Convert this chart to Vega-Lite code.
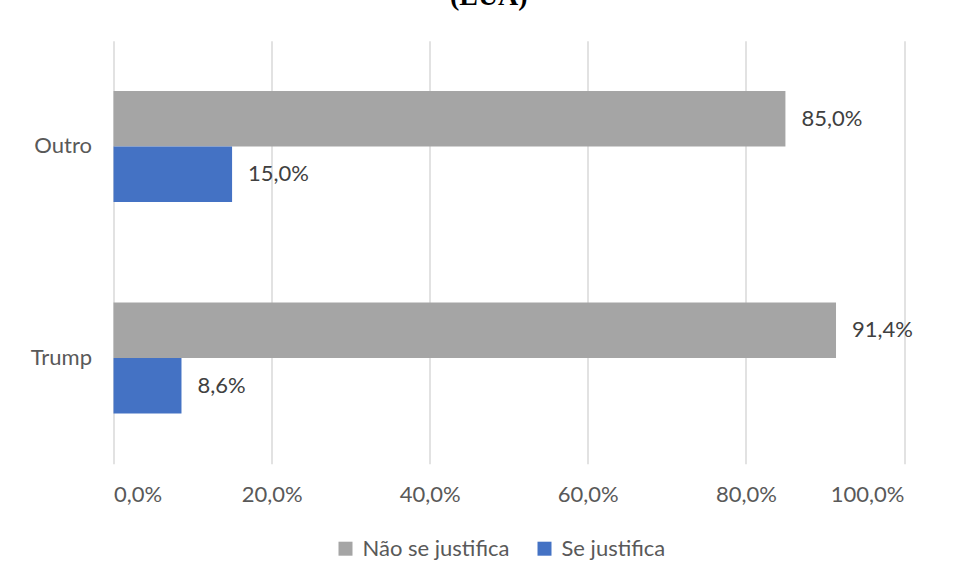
{
  "$schema": "https://vega.github.io/schema/vega-lite/v6.json",
  "autosize": {"type": "none"},
  "width": 790.5,
  "height": 423,
  "padding": {"left": 113.5, "top": 40.7, "right": 50, "bottom": 117.3},
  "background": "white",
  "title": {
    "text": "(EUA)",
    "font": "Liberation Serif",
    "fontWeight": "bold",
    "fontSize": 28,
    "color": "#000000",
    "baseline": "alphabetic",
    "anchor": "middle",
    "offset": 8,
    "dx": -20
  },
  "config": {
    "locale": {"number": {"decimal": ",", "thousands": ".", "grouping": [3], "currency": ["R$", ""]}},
    "view": {"stroke": null},
    "font": "Lato",
    "axis": {"labelFont": "Lato", "labelColor": "#595959", "labelFontSize": 22}
  },
  "data": {
    "values": [
      {"candidato": "Outro", "resposta": "Não se justifica", "valor": 0.85},
      {"candidato": "Outro", "resposta": "Se justifica", "valor": 0.15},
      {"candidato": "Trump", "resposta": "Não se justifica", "valor": 0.914},
      {"candidato": "Trump", "resposta": "Se justifica", "valor": 0.086}
    ]
  },
  "encoding": {
    "y": {
      "field": "candidato", "type": "nominal", "sort": ["Outro", "Trump"],
      "scale": {"paddingInner": 0.475, "paddingOuter": 0.2375},
      "axis": {"title": null, "ticks": false, "domain": false, "labelPadding": 22, "grid": false}
    },
    "yOffset": {"field": "resposta", "type": "nominal", "sort": ["Não se justifica", "Se justifica"]},
    "x": {
      "field": "valor", "type": "quantitative",
      "scale": {"domain": [0, 1], "nice": false},
      "axis": {
        "title": null, "format": ".1%", "values": [0, 0.2, 0.4, 0.6, 0.8, 1],
        "ticks": false, "domain": false, "grid": true, "gridColor": "#d9d9d9", "gridWidth": 1.5,
        "labelPadding": 21
      }
    }
  },
  "layer": [
    {
      "mark": {"type": "bar"},
      "encoding": {
        "color": {
          "field": "resposta", "type": "nominal",
          "scale": {"domain": ["Não se justifica", "Se justifica"], "range": ["#a5a5a5", "#4472c4"]},
          "legend": {
            "title": null, "orient": "none", "direction": "horizontal",
            "legendX": 221, "legendY": 497,
            "symbolType": "square", "symbolSize": 196, "symbolStrokeWidth": 0,
            "labelFontSize": 22, "labelColor": "#595959", "labelFont": "Lato",
            "columnPadding": 24, "labelOffset": 6
          }
        }
      }
    },
    {
      "mark": {"type": "text", "align": "left", "baseline": "middle", "dx": 16, "fontSize": 22, "color": "#404040", "font": "Lato"},
      "encoding": {
        "text": {"field": "valor", "type": "quantitative", "format": ".1%"}
      }
    }
  ]
}
